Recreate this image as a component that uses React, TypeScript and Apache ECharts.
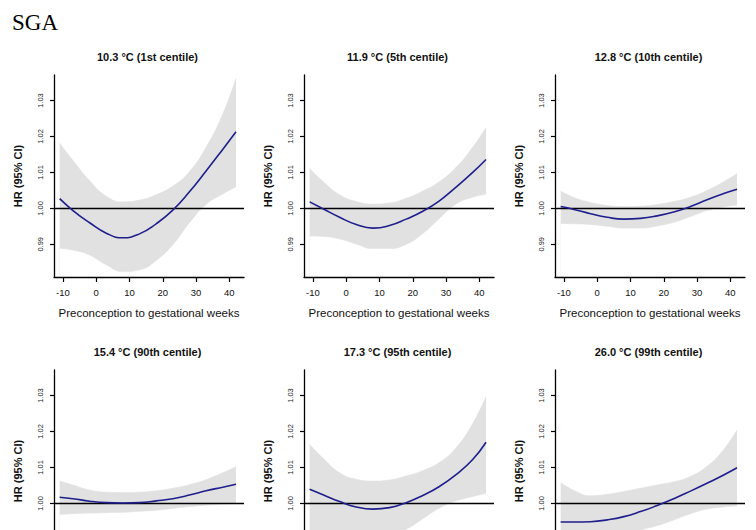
import React, { useEffect, useRef } from "react";
import * as echarts from "echarts";

const WEEKS = [-11, -7, -2, 3, 8, 13, 18, 23, 28, 33, 38, 42];
const X_TICKS = [-10, 0, 10, 20, 30, 40];
const Y_TICKS = [0.99, 1.0, 1.01, 1.02, 1.03];
const Y_TICKS_VISIBLE_ROW2 = [1.0, 1.01, 1.02, 1.03];

const TITLES = [
  "10.3 °C (1st centile)",
  "11.9 °C (5th centile)",
  "12.8 °C (10th centile)",
  "15.4 °C (90th centile)",
  "17.3 °C (95th centile)",
  "26.0 °C (99th centile)",
];

const HR_1 = [1.0027, 0.9994, 0.996, 0.9931, 0.9918, 0.9929, 0.9957, 0.9995, 1.0046, 1.0104, 1.0164, 1.0213];
const LO_1 = [0.9889, 0.9884, 0.987, 0.9843, 0.9824, 0.9829, 0.9855, 0.9899, 0.996, 1.0011, 1.004, 1.006];
const HI_1 = [1.0181, 1.0133, 1.0077, 1.0034, 1.0018, 1.0023, 1.0038, 1.0062, 1.0102, 1.017, 1.0262, 1.0362];

const HR_2 = [1.0018, 0.9999, 0.9975, 0.9955, 0.9945, 0.9952, 0.997, 0.9992, 1.0021, 1.0059, 1.01, 1.0136];
const LO_2 = [0.9923, 0.9922, 0.9915, 0.9901, 0.9888, 0.9888, 0.99, 0.993, 0.9972, 1.0012, 1.0031, 1.0039];
const HI_2 = [1.0111, 1.0075, 1.0038, 1.0019, 1.0012, 1.0015, 1.0028, 1.0048, 1.0074, 1.0114, 1.017, 1.0225];

const HR_3 = [1.0005, 0.9997, 0.9985, 0.9975, 0.997, 0.9972, 0.9979, 0.999, 1.0005, 1.0024, 1.0041, 1.0053];
const LO_3 = [0.9958, 0.9957, 0.9955, 0.995, 0.9945, 0.9945, 0.9951, 0.9961, 0.9977, 0.9994, 1.0004, 1.0009];
const HI_3 = [1.0048, 1.003, 1.0016, 1.0008, 1.0005, 1.0006, 1.0011, 1.0019, 1.0031, 1.005, 1.0074, 1.0097];

const HR_4 = [1.0017, 1.0013, 1.0006, 1.0002, 1.0001, 1.0002, 1.0007, 1.0013, 1.0023, 1.0035, 1.0045, 1.0053];
const LO_4 = [0.9969, 0.9971, 0.9973, 0.9974, 0.9975, 0.9978, 0.9981, 0.9986, 0.9991, 0.9995, 0.9998, 1.0];
const HI_4 = [1.0062, 1.0051, 1.0037, 1.0031, 1.003, 1.0031, 1.0035, 1.0042, 1.0052, 1.0066, 1.0085, 1.0102];

const HR_5 = [1.0039, 1.0024, 1.0005, 0.999, 0.9984, 0.9988, 1.0002, 1.0022, 1.0047, 1.008, 1.0122, 1.017];
const LO_5 = [0.9916, 0.992, 0.992, 0.9914, 0.9909, 0.9913, 0.9928, 0.9957, 0.9987, 1.0007, 1.0019, 1.0028];
const HI_5 = [1.0164, 1.0126, 1.0085, 1.0067, 1.0062, 1.0065, 1.0076, 1.0091, 1.0114, 1.0155, 1.0222, 1.0297];

const HR_6 = [0.9948, 0.9948, 0.9949, 0.9954, 0.9963, 0.9977, 0.9994, 1.0013, 1.0034, 1.0056, 1.0079, 1.0099];
const LO_6 = [0.983, 0.985, 0.9872, 0.9892, 0.9912, 0.9926, 0.9938, 0.9954, 0.9971, 0.9984, 0.999, 0.9993];
const HI_6 = [1.0058, 1.0036, 1.0021, 1.0025, 1.0033, 1.0042, 1.0051, 1.006, 1.0075, 1.0103, 1.015, 1.0204];

const HR_ALL = [HR_1, HR_2, HR_3, HR_4, HR_5, HR_6];
const LO_ALL = [LO_1, LO_2, LO_3, LO_4, LO_5, LO_6];
const HI_ALL = [HI_1, HI_2, HI_3, HI_4, HI_5, HI_6];

const FONT = "Liberation Sans, Arial, sans-serif";
const COL_LEFT = [54, 304, 555];
const ROW_TOP = [75, 370];
const GRID_W = 190;
const GRID_H = 202;
const BAND = "#e1e1e1";
const SMOOTH = 0.5;

export default function App() {
  const ref = useRef<HTMLDivElement>(null);

  useEffect(() => {
    if (!ref.current) return;
    const chart = echarts.init(ref.current, null, { renderer: "svg" });

    const grids: any[] = [];
    const xAxes: any[] = [];
    const yAxes: any[] = [];
    const series: any[] = [];
    const graphics: any[] = [
      {
        type: "text",
        x: 12,
        y: 22,
        style: {
          text: "SGA",
          font: '23px "Liberation Serif", "Times New Roman", serif',
          fill: "#000",
          textAlign: "left",
          textVerticalAlign: "middle",
        },
      },
    ];

    for (let i = 0; i < 6; i++) {
      const row = Math.floor(i / 3);
      const left = COL_LEFT[i % 3];
      const top = ROW_TOP[row];
      const bottomRow = row === 1;
      grids.push({ left, top, width: GRID_W, height: GRID_H, containLabel: false, outerBoundsMode: "none" });
      xAxes.push({
        type: "value",
        gridIndex: i,
        min: -12.7,
        max: 44.4,
        z: 5,
        axisLine: { show: true, onZero: false, lineStyle: { color: "#000", width: 1.3 } },
        axisTick: { show: true, customValues: X_TICKS, length: 5, lineStyle: { color: "#000", width: 1.2 } },
        axisLabel: {
          show: !bottomRow,
          customValues: X_TICKS,
          margin: 10,
          fontSize: 9.5,
          color: "#111",
          fontFamily: FONT,
          formatter: (v: number) => String(v),
        },
        splitLine: { show: false },
        name: bottomRow ? "" : "Preconception to gestational weeks",
        nameLocation: "middle",
        nameGap: 30,
        nameTextStyle: { fontSize: 11.5, color: "#111", fontFamily: FONT },
      });
      yAxes.push({
        type: "value",
        gridIndex: i,
        min: 0.9809,
        max: 1.0371,
        z: 5,
        axisLine: { show: true, onZero: false, lineStyle: { color: "#000", width: 1.3 } },
        axisTick: { show: true, customValues: Y_TICKS, length: 4, lineStyle: { color: "#000", width: 1.2 } },
        axisLabel: {
          show: true,
          customValues: bottomRow ? Y_TICKS_VISIBLE_ROW2 : Y_TICKS,
          rotate: 90,
          margin: 10,
          fontSize: 7.5,
          color: "#222",
          fontFamily: FONT,
          formatter: (v: number) => v.toFixed(2),
        },
        splitLine: { show: false },
        name: "HR (95% CI)",
        nameLocation: "middle",
        nameRotate: 90,
        nameGap: 31,
        nameTextStyle: { fontSize: 11, fontWeight: "bold", color: "#111", fontFamily: FONT },
      });

      const lo = LO_ALL[i];
      const hi = HI_ALL[i];
      const hr = HR_ALL[i];
      // upper CI: grey area down to the axis start
      series.push({
        type: "line",
        xAxisIndex: i,
        yAxisIndex: i,
        data: WEEKS.map((w, k) => [w, hi[k]]),
        symbol: "none",
        smooth: SMOOTH,
        silent: true,
        z: 1,
        lineStyle: { width: 0.6, color: BAND },
        areaStyle: { color: BAND, opacity: 1, origin: "start" },
      });
      // lower CI: white area masks everything below the band
      series.push({
        type: "line",
        xAxisIndex: i,
        yAxisIndex: i,
        data: WEEKS.map((w, k) => [w, lo[k]]),
        symbol: "none",
        smooth: SMOOTH,
        silent: true,
        z: 1.5,
        lineStyle: { width: 0.6, color: BAND },
        areaStyle: { color: "#ffffff", opacity: 1, origin: "start" },
        markLine: {
          silent: true,
          symbol: "none",
          z: 2,
          label: { show: false },
          lineStyle: { color: "#fff", width: 1.2, type: "solid" },
          data: [{ yAxis: 0.9991 }],
        },
      });
      series.push({
        type: "line",
        xAxisIndex: i,
        yAxisIndex: i,
        data: WEEKS.map((w, k) => [w, hr[k]]),
        symbol: "none",
        smooth: SMOOTH,
        silent: true,
        z: 4,
        lineStyle: { color: "#1e1e8c", width: 1.6 },
        markLine: {
          silent: true,
          symbol: "none",
          z: 3,
          label: { show: false },
          lineStyle: { color: "#000", width: 1.3, type: "solid" },
          data: [{ yAxis: 1 }],
        },
      });

      graphics.push({
        type: "text",
        x: left + GRID_W / 2 - 1.5,
        y: top - 18,
        style: {
          text: TITLES[i],
          font: `bold 11px ${FONT}`,
          fill: "#111",
          textAlign: "center",
          textVerticalAlign: "middle",
        },
      });
    }

    chart.setOption({
      animation: false,
      backgroundColor: "#fff",
      grid: grids,
      xAxis: xAxes,
      yAxis: yAxes,
      series,
      graphic: graphics,
    });

    return () => chart.dispose();
  }, []);

  return (
    <div
      ref={ref}
      style={{ position: "absolute", left: 0, top: 0, width: 756, height: 530 }}
    />
  );
}
